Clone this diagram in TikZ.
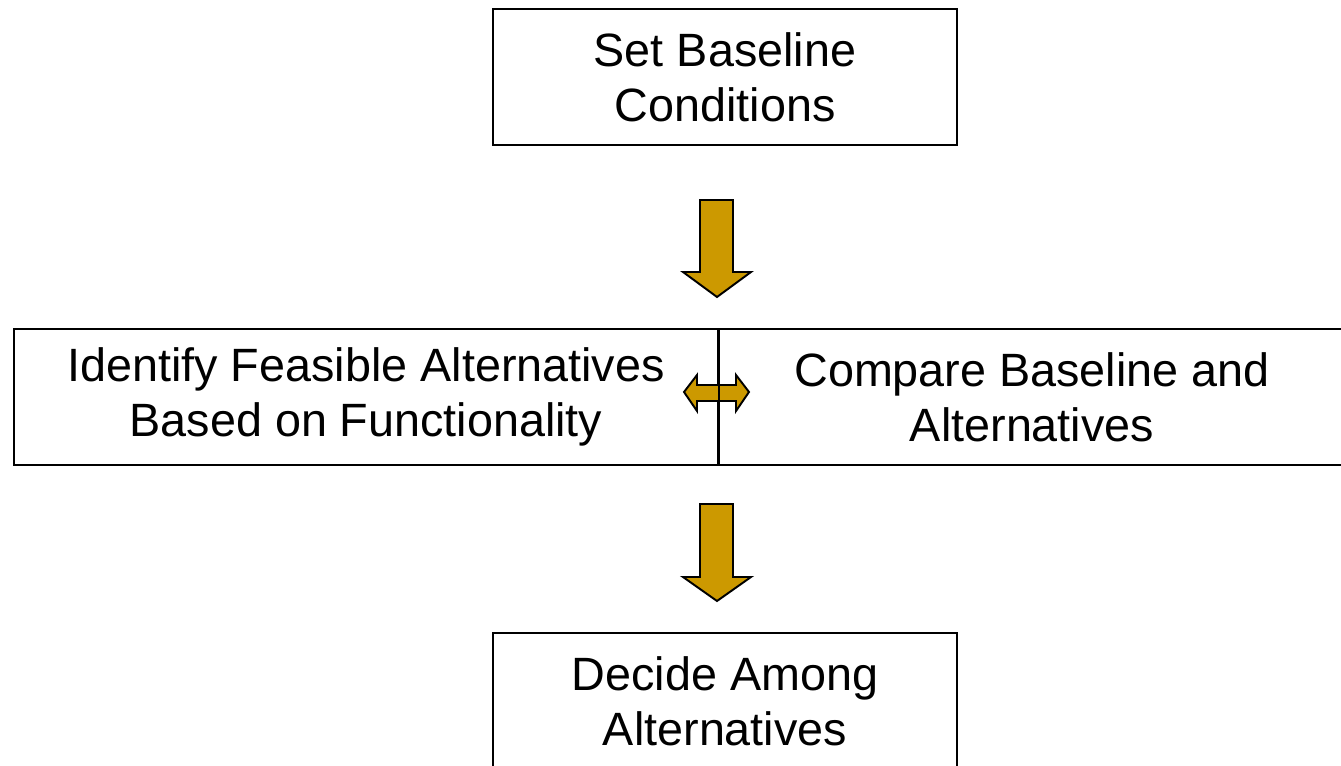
\documentclass[tikz,border=0pt]{standalone}
\usepackage{fontspec}
\setmainfont{Liberation Sans}
\definecolor{arrowgold}{HTML}{CC9900}

\tikzset{
  stepbox/.style={draw, line width=1.1pt, align=center, inner sep=0pt,
    minimum height=2.72cm, font=\fontsize{26.6pt}{31.3pt}\selectfont},
  blockarrow/.style={draw, line width=1.1pt, fill=arrowgold, line join=miter}
}

\begin{document}
\begin{tikzpicture}[x=0.02cm, y=-0.02cm]
      \useasboundingbox (0, 0) rectangle (1341, 766);

      \node[stepbox, minimum width=9.28cm] (baseline) at (725, 77) {Set Baseline\\Conditions};

      \node[stepbox, minimum width=14.08cm] (identify) at (366, 397) {Identify Feasible Alternatives\\Based on Functionality};
      \node[stepbox, minimum width=12.56cm] (compare) at (1032, 397) {Compare Baseline and\\Alternatives};

      \node[stepbox, minimum width=9.28cm] (decide) at (725, 701) {Decide Among\\Alternatives};

      % down arrows
      \draw[blockarrow] (700, 200) -- (733, 200) -- (733, 272) -- (751, 272) -- (717, 297)
        -- (683, 272) -- (700, 272) -- cycle;
      \draw[blockarrow] (700, 504) -- (733, 504) -- (733, 577) -- (751, 577) -- (717, 601)
        -- (683, 577) -- (700, 577) -- cycle;

      % two way arrow
      \draw[blockarrow] (684, 392) -- (697, 375) -- (697, 385) -- (736, 385) -- (736, 375)
        -- (749, 392) -- (736, 411) -- (736, 401) -- (697, 401) -- (697, 411) -- cycle;
      \draw[line width=1.1pt] (identify.north east) -- (identify.south east);
\end{tikzpicture}
\end{document}
